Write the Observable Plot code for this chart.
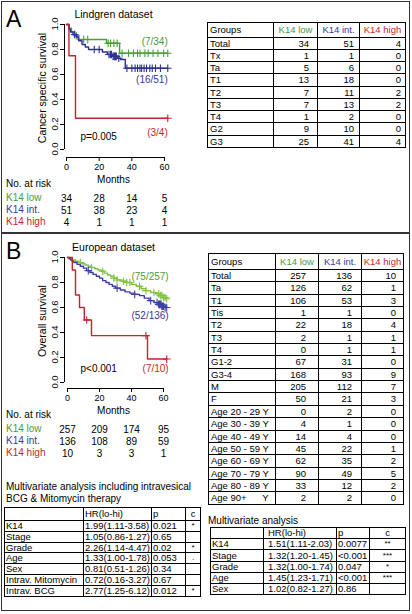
<!DOCTYPE html>
<html><head><meta charset="utf-8">
<script src="https://cdn.jsdelivr.net/npm/d3@7"></script>
<script src="https://cdn.jsdelivr.net/npm/@observablehq/plot@0.6"></script>
<style>
body{margin:0;background:#fff;font-family:"Liberation Sans",Arial,sans-serif;color:#000}
#fig{position:relative;width:412px;height:614px;overflow:hidden;background:#fff}
.abs{position:absolute;white-space:pre;line-height:1}
.cell{position:absolute;box-sizing:border-box;border-right:1px solid #000;border-bottom:1px solid #000;white-space:pre;overflow:hidden}
.ytick{position:absolute;z-index:10;width:4px;height:1px;background:#000}
.ylab{position:absolute;z-index:10;font-size:9.5px;line-height:10px;height:10px;width:20px;text-align:center;color:#000;white-space:pre;transform-origin:50% 50%}
</style></head><body><div id="fig"></div>
<script>
// ---------- shared ----------
const groupNames = ["K14 low","K14 int.","K14 high"];
const riskMonths = [0,20,40,60];
const survTicks = [0,0.2,0.4,0.6,0.8,1];

// ---------- Panel A: Lindgren dataset ----------
const lindLowT = [0,1.5,3,5,7,24.5,32.5];
const lindLowS = [1,0.97,0.94,0.91,0.88,0.85,0.77];
const lindLowCens = [6,10.5,13,25.5,27,29,31,34,38,41,43.5,45,48,50,53,56,59.5,62];
const lindIntT = [0,1.5,2.5,4,6,7.5,9.5,11.5,13.5,22,25,28,31,33,36];
const lindIntS = [1,0.96,0.94,0.92,0.90,0.87,0.84,0.82,0.80,0.78,0.76,0.745,0.73,0.72,0.65];
const lindIntCens = [5,17,20,26,27,27.5,28.5,29,29.5,30,30.5,32,37,40,42,43.5,45,46,47.5,49,51,52.5,54.5,57.5,62];
const lindHighT = [0,1.5,5.5];
const lindHighS = [1,0.75,0.25];
const lindHighCens = [62];
const lindEvents = [7,16,3];
const lindTotals = [34,51,4];
const lindRiskLow = [34,28,14,5];
const lindRiskInt = [51,38,23,4];
const lindRiskHigh = [4,1,1,1];

const tabAGroups = ["Total","Tx","Ta","T1","T2","T3","T4","G2","G3"];
const tabALow  = [34,1,5,13,7,7,1,9,25];
const tabAInt  = [51,1,6,18,11,13,2,10,41];
const tabAHigh = [4,0,0,0,2,2,0,0,4];

// ---------- Panel B: European dataset ----------
const euLowT = [0,1,3,5,7,9,11,13,15,17,19,21,23,25,27,29,31,34,37,40,43,46,49,52,55,58,60,61.5];
const euLowS = [1,0.99,0.98,0.97,0.96,0.95,0.94,0.93,0.92,0.91,0.90,0.89,0.875,0.86,0.85,0.835,0.82,0.81,0.80,0.785,0.77,0.75,0.735,0.72,0.71,0.695,0.68,0.67];
const euLowCens = [8,15,22,29,31,35,37,39,45,49,54,57,58,59,60,61,62];
const euIntT = [0,1,2,3,4,6,8,10,12,14,16,18,20,22,24,26,28,30,33,36,39,42,45,48,51,54,57,59,60.5];
const euIntS = [1,0.99,0.98,0.97,0.96,0.945,0.93,0.915,0.895,0.88,0.865,0.85,0.835,0.815,0.80,0.785,0.77,0.755,0.74,0.725,0.715,0.705,0.695,0.675,0.655,0.64,0.625,0.61,0.60];
const euIntCens = [13,31,42,52,56,57,57.5,58,58.5,59,59.5,60,61,62];
const euHighT = [0,3,5,7.5,10.5,15,50];
const euHighS = [1,0.9,0.7,0.6,0.5,0.375,0.1875];
const euHighCens = [12,49,62];
const euEvents = [75,52,7];
const euTotals = [257,136,10];
const euRiskLow = [257,209,174,95];
const euRiskInt = [136,108,89,59];
const euRiskHigh = [10,3,3,1];

const tabBGroups = ["Total","Ta","T1","Tis","T2","T3","T4","G1-2","G3-4","M","F","Age 20 - 29 Y","Age 30 - 39 Y","Age 40 - 49 Y","Age 50 - 59 Y","Age 60 - 69 Y","Age 70 - 79 Y","Age 80 - 89 Y","Age 90+      Y"];
const tabBLow  = [257,126,106,1,22,2,0,67,168,205,50,0,4,14,45,62,90,33,2];
const tabBInt  = [136,62,53,1,18,1,1,31,93,112,21,2,1,4,22,35,49,12,2];
const tabBHigh = [10,1,3,0,4,1,1,0,9,7,3,0,0,0,1,2,5,2,0];

// ---------- multivariate tables ----------
const mvHeader = ["","HR(lo-hi)","p","c"];
const mv1Vars = ["K14","Stage","Grade","Age","Sex","Intrav. Mitomycin","Intrav. BCG"];
const mv1HR = ["1.99(1.11-3.58)","1.05(0.86-1.27)","2.26(1.14-4.47)","1.33(1.00-1.78)","0.81(0.51-1.26)","0.72(0.16-3.27)","2.77(1.25-6.12)"];
const mv1P = ["0.021","0.65","0.02","0.053","0.34","0.67","0.012"];
const mv1C = ["*","","*",".","","","*"];
const mv2Vars = ["K14","Stage","Grade","Age","Sex"];
const mv2HR = ["1.51(1.11-2.03)","1.32(1.20-1.45)","1.32(1.00-1.74)","1.45(1.23-1.71)","1.02(0.82-1.27)"];
const mv2P = ["0.0077","<0.001","0.047","<0.001","0.86"];
const mv2C = ["**","***","*","***",""];

// ---------- colours ----------
const textCol = ["#4a9a3c","#35399a","#c81f2e"];
const lineColA = ["#4f9b3d","#2e3192","#c8202f"];
const lineColB = ["#80c242","#3b40a0","#c8202f"];
const FONT = "'Liberation Sans',Arial,sans-serif";

const fig = document.getElementById("fig");
function addText(txt, x, cy, size, color, extra){
  const d = document.createElement("div");
  d.className = "abs";
  d.textContent = txt;
  d.style.left = x+"px"; d.style.top = cy+"px";
  d.style.fontSize = size+"px";
  d.style.color = color||"#000";
  d.style.transform = "translateY(-50%)";
  if (extra) Object.assign(d.style, extra);
  fig.appendChild(d);
  return d;
}

function stepAt(T,S,t){let s=S[0];for(let i=0;i<T.length;i++){if(T[i]<=t)s=S[i];}return s;}

function kmPlot(cfg){
  const gap = cfg.xr[0]-cfg.ml; // y axis line sits this many px left of month 0
  const marks = [
    Plot.ruleX([0],{y1:0,y2:1,dx:-gap,strokeWidth:1}),
    Plot.axisX(riskMonths,{tickSize:4,tickPadding:2,fontSize:9,label:null}),
    Plot.ruleY([0],{x1:0,x2:60,dy:cfg.fb-cfg.yr[0],strokeWidth:1}),
    Plot.text([cfg.title],{frameAnchor:"top",lineAnchor:"middle",dy:-10,fontSize:10.5}),
    Plot.text([cfg.ylabel],{frameAnchor:"left",textAnchor:"middle",lineAnchor:"middle",rotate:-90,dx:-22,dy:cfg.yldy,fontSize:10.5}),
    Plot.text(["Months"],{frameAnchor:"bottom",lineAnchor:"middle",dy:22,fontSize:10}),
    Plot.text([cfg.p],{frameAnchor:"bottom-left",textAnchor:"start",lineAnchor:"middle",dx:16,dy:cfg.pdy,fontSize:10})
  ];
  cfg.series.forEach((sr,i)=>{
    const rows = sr.T.map((t,j)=>({t,s:sr.S[j]}));
    rows.push({t:d3.max(sr.C),s:sr.S[sr.S.length-1]});
    const cens = sr.C.map(t=>({t,s:stepAt(sr.T,sr.S,t)}));
    marks.push(Plot.line(rows,{x:"t",y:"s",curve:"step-after",stroke:sr.color,strokeWidth:1.4}));
    marks.push(Plot.dot(cens,{x:"t",y:"s",symbol:"plus",r:2.6,stroke:sr.color,strokeWidth:1.1}));
    marks.push(Plot.text([rows[rows.length-1]],{x:"t",y:"s",text:()=>`(${sr.events}/${sr.total})`,textAnchor:"end",lineAnchor:"middle",dx:sr.ldx,dy:sr.ldy,fill:sr.textColor,fontSize:10}));
    marks.push(Plot.text(riskMonths,{x:d=>d,text:(d,k)=>String(sr.risk[k]),frameAnchor:"bottom",lineAnchor:"middle",dy:41+12*i,fontSize:10}));
  });
  return Plot.plot({
    width:cfg.w,height:cfg.h,marginLeft:cfg.ml,marginRight:cfg.mr,marginTop:cfg.mt,marginBottom:cfg.h-cfg.fb,
    x:{domain:[0,60],range:cfg.xr},y:{domain:[0,1],range:cfg.yr,axis:null},
    style:{fontFamily:FONT,fontSize:"9px",background:"transparent",color:"#000",overflow:"visible"},
    marks
  });
}

function placePlot(svg, left, top, ml){
  const w = document.createElement("div");
  w.style.position="absolute"; w.style.left=left+"px"; w.style.top=top+"px";
  w.appendChild(svg); fig.appendChild(w);
}
// y-axis ticks and rotated labels, positioned with the plot's own y scale
function yAxisLabels(svg, left, top, ml){
  const ys = svg.scale("y");
  survTicks.forEach(v=>{
    const py = top + ys.apply(v);
    const tk = document.createElement("div");
    tk.className = "ytick";
    tk.style.left = (left+ml-4)+"px"; tk.style.top = (py-0.5)+"px";
    fig.appendChild(tk);
    const lb = document.createElement("div");
    lb.className = "ylab";
    lb.textContent = v.toFixed(1);
    lb.style.left = (left+ml-19)+"px"; lb.style.top = (py-5)+"px";
    lb.style.transform = "rotate(-90deg)";
    fig.appendChild(lb);
  });
}

const plotA = kmPlot({
  w:205,h:230,ml:64,mr:43,mt:24,fb:157,xr:[66,164],yr:[149,24],
  title:"Lindgren dataset",ylabel:"Cancer specific survival",p:"p=0.005",pdy:-21,yldy:-3,
  series:[
    {T:lindLowT,S:lindLowS,C:lindLowCens,color:lineColA[0],textColor:textCol[0],events:lindEvents[0],total:lindTotals[0],risk:lindRiskLow,ldx:0,ldy:-11},
    {T:lindIntT,S:lindIntS,C:lindIntCens,color:lineColA[1],textColor:textCol[1],events:lindEvents[1],total:lindTotals[1],risk:lindRiskInt,ldx:0,ldy:12},
    {T:lindHighT,S:lindHighS,C:lindHighCens,color:lineColA[2],textColor:textCol[2],events:lindEvents[2],total:lindTotals[2],risk:lindRiskHigh,ldx:0,ldy:15}
  ]
});
placePlot(plotA,0,0,64);

const plotB = kmPlot({
  w:205,h:230,ml:64,mr:43,mt:23,fb:154,xr:[67,163],yr:[148,23],
  title:"European dataset",ylabel:"Overall survival",p:"p<0.001",pdy:-20,yldy:-2,
  series:[
    {T:euLowT,S:euLowS,C:euLowCens,color:lineColB[0],textColor:textCol[0],events:euEvents[0],total:euTotals[0],risk:euRiskLow,ldx:2,ldy:-22},
    {T:euIntT,S:euIntS,C:euIntCens,color:lineColB[1],textColor:textCol[1],events:euEvents[1],total:euTotals[1],risk:euRiskInt,ldx:2,ldy:8},
    {T:euHighT,S:euHighS,C:euHighCens,color:lineColB[2],textColor:textCol[2],events:euEvents[2],total:euTotals[2],risk:euRiskHigh,ldx:2,ldy:9.5}
  ]
});
placePlot(plotB,0,234,64);

// ---------- frame ----------
const border = document.createElement("div");
Object.assign(border.style,{position:"absolute",left:"1px",top:"1px",width:"409px",height:"610px",boxSizing:"border-box",border:"1.5px solid #333",pointerEvents:"none"});
fig.appendChild(border);
const sep = document.createElement("div");
Object.assign(sep.style,{position:"absolute",left:"1px",top:"232px",width:"409px",height:"1.5px",background:"#333"});
fig.appendChild(sep);

yAxisLabels(plotA,0,0,64);
yAxisLabels(plotB,0,234,64);

// panel letters
addText("A",6,18.5,23,"#000");
addText("B",6,250.5,23,"#000");

// at-risk labels
addText("No. at risk",6,184,10);
addText("No. at risk",6,415,10);
groupNames.forEach((g,i)=>{
  addText(g,6,198+12*i,10,textCol[i]);
  addText(g,6,429+12*i,10,textCol[i]);
});

// ---------- tables ----------
function buildTable(left, top, widths, heights, rows, font, styleFn){
  const ys=[0]; heights.forEach(h=>ys.push(ys[ys.length-1]+h));
  const xs=[0]; widths.forEach(w=>xs.push(xs[xs.length-1]+w));
  const box=document.createElement("div");
  Object.assign(box.style,{position:"absolute",left:left+"px",top:top+"px",width:xs[xs.length-1]+"px",height:Math.round(ys[ys.length-1])+"px",borderLeft:"1px solid #000",borderTop:"1px solid #000",boxSizing:"content-box",fontSize:font+"px"});
  rows.forEach((r,ri)=>{
    r.forEach((txt,ci)=>{
      const c=document.createElement("div");
      c.className="cell";
      const y0=Math.round(ys[ri]), y1=Math.round(ys[ri+1]);
      Object.assign(c.style,{left:xs[ci]+"px",top:y0+"px",width:widths[ci]+"px",height:(y1-y0)+"px",lineHeight:(y1-y0-1)+"px"});
      Object.assign(c.style,styleFn(ri,ci,txt));
      c.textContent=txt;
      box.appendChild(c);
    });
  });
  fig.appendChild(box);
}

// Table A
{
  const rows=[["Groups",...groupNames]];
  tabAGroups.forEach((g,i)=>rows.push([g,String(tabALow[i]),String(tabAInt[i]),String(tabAHigh[i])]));
  const pads=[8,5,4];
  buildTable(207,22,[66,44,42,46],[14.5,...tabAGroups.map(()=>12.25)],rows,9.5,(ri,ci)=>{
    if(ci===0) return {textAlign:"left",paddingLeft:"2px"};
    if(ri===0) return {textAlign:"center",color:textCol[ci-1]};
    return {textAlign:"right",paddingRight:pads[ci-1]+"px"};
  });
}
// Table B
{
  const rows=[["Groups",...groupNames]];
  tabBGroups.forEach((g,i)=>rows.push([g,String(tabBLow[i]),String(tabBInt[i]),String(tabBHigh[i])]));
  const pads=[12,9,7];
  buildTable(208,253,[67,43,43,42],[16,...tabBGroups.map(()=>12.35)],rows,9.5,(ri,ci)=>{
    if(ci===0) return {textAlign:"left",paddingLeft:"2px"};
    if(ri===0) return {textAlign:"center",color:textCol[ci-1]};
    return {textAlign:"right",paddingRight:pads[ci-1]+"px"};
  });
}
// Multivariate 1
addText("Multivariate analysis including intravesical",6,487,10);
addText("BCG & Mitomycin therapy",6,499,10);
{
  const rows=[mvHeader];
  mv1Vars.forEach((v,i)=>rows.push([v,mv1HR[i],mv1P[i],mv1C[i]]));
  buildTable(4,507,[79,68,34,15],[13,...mv1Vars.map(()=>10.8)],rows,9.5,(ri,ci)=>{
    if(ci===3) return {textAlign:"center",fontSize: ri===0?"9.5px":"8px"};
    return {textAlign:"left",paddingLeft:"1px"};
  });
}
// Multivariate 2
addText("Multivariate analysis",208,521,10);
{
  const rows=[mvHeader];
  mv2Vars.forEach((v,i)=>rows.push([v,mv2HR[i],mv2P[i],mv2C[i]]));
  buildTable(210,527,[53,73,33,36],[11.2,...mv2Vars.map(()=>11.2)],rows,9.5,(ri,ci)=>{
    if(ci===3) return {textAlign:"center",fontSize: ri===0?"9.5px":"8px"};
    if(ci===1) return {textAlign:"left",paddingLeft:"4px"};
    return {textAlign:"left",paddingLeft:"1px"};
  });
}
</script></body></html>
